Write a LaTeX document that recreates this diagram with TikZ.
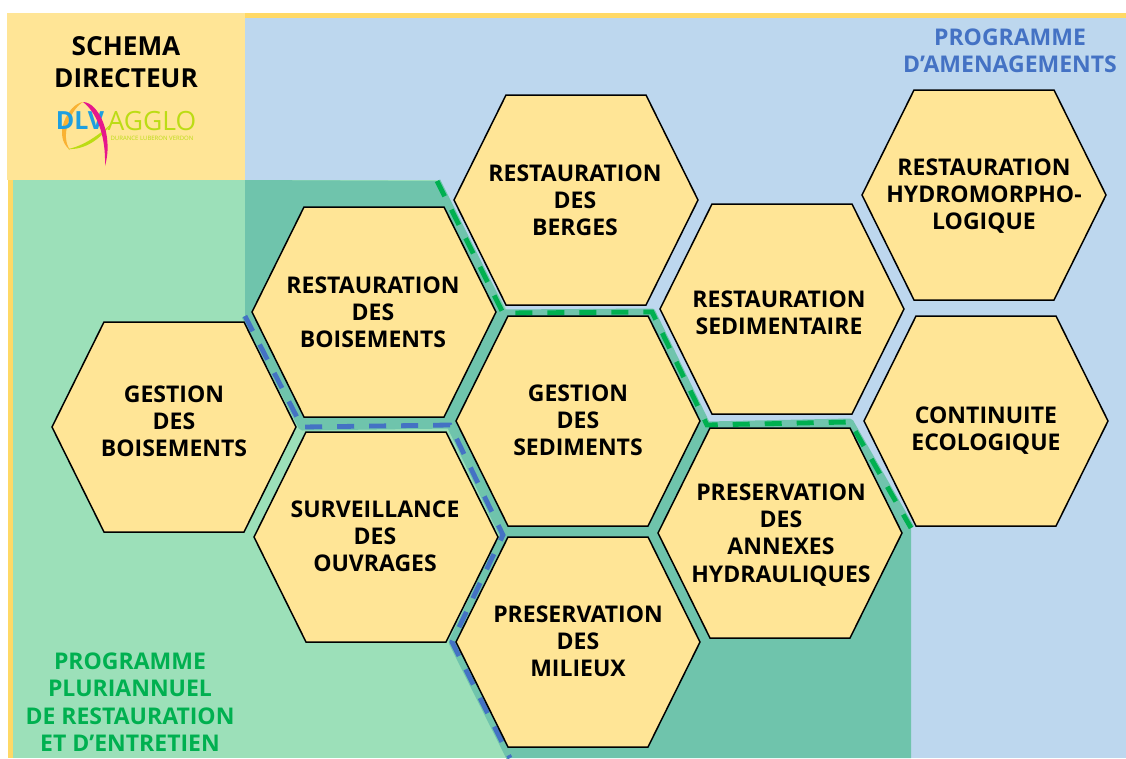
\documentclass[tikz,border=0pt]{standalone}
\usepackage{fontspec}
\setmainfont{Open Sans}
\usetikzlibrary{positioning}
\definecolor{hexyellow}{HTML}{FFE596}
\definecolor{stripyellow}{HTML}{FFD966}
\definecolor{zoneblue}{HTML}{BDD7EE}
\definecolor{zonegreen}{HTML}{9CE0B9}
\definecolor{zoneteal}{HTML}{6FC4AC}
\definecolor{progblue}{HTML}{4472C4}
\definecolor{proggreen}{HTML}{00B050}
\definecolor{logoblue}{HTML}{1E9FE0}
\definecolor{logolime}{HTML}{BCDC14}
\definecolor{logopink}{HTML}{E6178C}
\definecolor{logoorange}{HTML}{F9B233}
\tikzset{
	hexcell/.style={draw=black,fill=hexyellow,line width=1.5pt,line join=miter},
	hexlabel/.style={align=center,font=\fontsize{23}{27.2}\selectfont\bfseries,text=black,inner sep=0pt},
	halo/.style={draw=zoneteal,line width=7pt,line join=round},
	bluedash/.style={draw=progblue,line width=4.8pt,dash pattern=on 17pt off 15pt},
	greendash/.style={draw=proggreen,line width=4.8pt,dash pattern=on 17pt off 15pt}
}

\begin{document}
\begin{tikzpicture}[x=1pt,y=-1pt]
	\useasboundingbox (0,0) rectangle (1126,758);

	% fonds
	\fill[stripyellow] (7,13) rectangle (1126,18);
	\fill[stripyellow] (8,180) rectangle (13,758);
	\fill[zoneblue] (245,18) rectangle (1126,758);
	\fill[zonegreen] (13,180) rectangle (510,758);
	\fill[zoneblue] (437,180) -- (510,180) -- (510,316) -- cycle;
	\fill[hexyellow] (7,13) rectangle (245,180);
	\fill[zoneteal] (245,180) -- (437,181) -- (503,313) -- (652,312) -- (707,425) -- (850,422)
		-- (911,528) -- (911,758) -- (510,758) -- (452,642) -- (503,535) -- (450,425) -- (302,427) -- (245,316) -- cycle;

	% limites des programmes
	\coordinate (g1) at (437,181);
	\coordinate (g2) at (503,313);
	\coordinate (g3) at (652,312);
	\coordinate (g4) at (707,425);
	\coordinate (g5) at (850,422);
	\coordinate (g6) at (911,528);
	\coordinate (b1) at (245,316);
	\coordinate (b2) at (302,427);
	\coordinate (b3) at (450,425);
	\coordinate (b4) at (503,535);
	\coordinate (b5) at (452,642);
	\coordinate (b6) at (510,758);
	\draw[halo] (g1) -- (g2) -- (g3) -- (g4) -- (g5) -- (g6);
	\draw[halo] (b1) -- (b2) -- (b3) -- (b4) -- (b5) -- (b6);
	\draw[greendash] (g1) -- (g2) -- (g3) -- (g4) -- (g5) -- (g6);
	\draw[bluedash] (b1) -- (b2) -- (b3) -- (b4) -- (b5) -- (b6);

	% alveoles
	\foreach \name/\x/\y/\ty/\tx/\txt in {
		boisgestion/174/427/421/174/{GESTION\\DES\\BOISEMENTS},
		boisresto/374/312/312/373/{RESTAURATION\\DES\\BOISEMENTS},
		ouvrages/376/537/536/375/{SURVEILLANCE\\DES\\OUVRAGES},
		berges/576/200/200/575/{RESTAURATION\\DES\\BERGES},
		sediments/578/421/420/578/{GESTION\\DES\\SEDIMENTS},
		milieux/578/642/641/578/{PRESERVATION\\DES\\MILIEUX},
		sedimentaire/782/309/313/779/{RESTAURATION\\SEDIMENTAIRE},
		annexes/780/533/535/781/{PRESERVATION\\DES\\ANNEXES\\HYDRAULIQUES},
		hydromorpho/984/195/196/984/{RESTAURATION\\HYDROMORPHO-\\LOGIQUE},
		continuite/986/421/431/986/{CONTINUITE\\ECOLOGIQUE}}
	{
		\draw[hexcell] (\x-122,\y) -- (\x-70,\y-105) -- (\x+70,\y-105) -- (\x+122,\y)
			-- (\x+70,\y+105) -- (\x-70,\y+105) -- cycle;
		\node[hexlabel] (\name) at (\tx,\ty) {\txt};
	}

	% titres
	\node[align=center,font=\fontsize{26.2}{31.5}\selectfont\bfseries,inner sep=0pt] (titre) at (126,62) {SCHEMA\\DIRECTEUR};
	\node[align=center,font=\fontsize{23}{27}\selectfont\bfseries,text=progblue,inner sep=0pt] (amenagements) at (1010,51) {PROGRAMME\\D’AMENAGEMENTS};
	\node[align=center,font=\fontsize{23}{27.3}\selectfont\bfseries,text=proggreen,inner sep=0pt] (entretien) at (130,702) {PROGRAMME\\PLURIANNUEL\\DE RESTAURATION\\ET D’ENTRETIEN};

	% logo
	\fill[logoorange] (83,102) .. controls (68,104) and (52,136) .. (70,150) .. controls (60,136) and (70,110) .. cycle;
	\fill[logolime] (68,149) .. controls (84,150) and (100,140) .. (111,124) .. controls (100,134) and (84,146) .. cycle;
	\node[font=\fontsize{25}{25}\selectfont\bfseries,text=logoblue,inner sep=0pt] (dlv) at (80,121) {DLV};
	\node[font=\fontsize{26.5}{26.5}\selectfont,text=logolime,inner sep=0pt] (agglo) at (152,121) {AGGLO};
	\node[font=\fontsize{6}{6}\selectfont,text=logolime,inner sep=0pt] (durance) at (152,138) {DURANCE LUBERON VERDON};
	\fill[logopink] (83,102) .. controls (98,102) and (114,134) .. (105,166) .. controls (106,134) and (96,112) .. cycle;
\end{tikzpicture}
\end{document}
